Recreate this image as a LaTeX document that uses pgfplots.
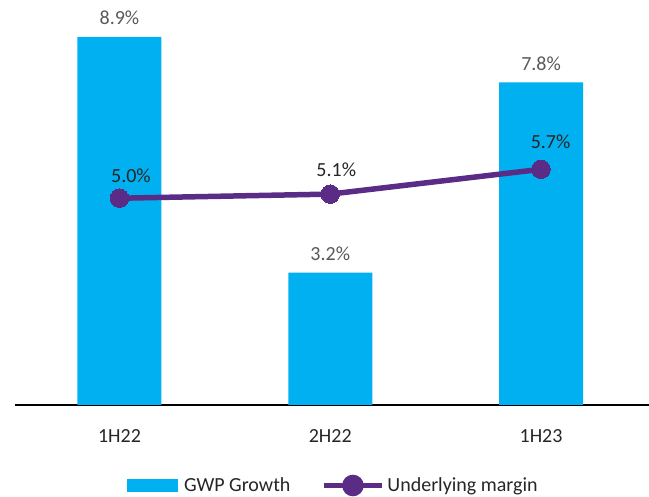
\documentclass[border=0pt]{standalone}
\usepackage{pgfplots}
\pgfplotsset{compat=1.18}
\usepackage{fontspec}
\setmainfont{Carlito}
\definecolor{barblue}{HTML}{00B0F0}
\definecolor{linepurple}{HTML}{5B2C86}
\definecolor{lblgray}{HTML}{595959}
\definecolor{lbldark}{HTML}{262626}
\begin{document}
\begin{tikzpicture}
\begin{axis}[
  at={(14.5pt,92pt)}, anchor=south west,
  scale only axis, width=634.5pt, height=405pt,
  xmin=-0.498, xmax=2.512, ymin=0, ymax=9.794,
  clip=false,
  axis x line=bottom, axis y line=none,
  x axis line style={-, line width=1.5pt, black},
  xtick={0,1,2}, xticklabels={1H22,2H22,1H23},
  major tick length=0pt,
  xticklabel style={font=\fontsize{20}{24}\selectfont, text=lbldark, anchor=base, yshift=-38pt, inner sep=0pt},
  /pgf/number format/assume math mode=true,
  legend columns=2,
  legend style={at={(0.1773,-0.1988)}, anchor=west, draw=none, fill=none,
    font=\fontsize{20}{24}\selectfont, text=lbldark,
    inner sep=0pt, outer sep=0pt,
    nodes={inner sep=0pt},
    /tikz/column 1/.style={column sep=6pt},
    /tikz/column 2/.style={column sep=31pt},
    /tikz/column 3/.style={column sep=3pt}},
]
\addplot[ybar, bar width=84pt, fill=barblue, draw=none,
  point meta=explicit symbolic,
  nodes near coords,
  every node near coord/.append style={font=\fontsize{20}{24}\selectfont, text=lblgray, anchor=base, yshift=12pt, inner sep=0pt},
  legend image code/.code={\fill[barblue] (0pt,-6.5pt) rectangle (51pt,6.5pt);}]
  coordinates {(0,8.9) [8.9\%] (1,3.2) [3.2\%] (2,7.8) [7.8\%]};
\addlegendentry{GWP Growth}
\addplot[linepurple, line width=5.5pt, mark=*, mark size=9.25pt,
  mark options={solid, fill=linepurple, draw=linepurple, line width=0pt},
  point meta=explicit symbolic,
  nodes near coords,
  every node near coord/.append style={font=\fontsize{20}{24}\selectfont, text=lbldark, anchor=base, inner sep=0pt,
    xshift={ifthenelse(\coordindex==0,11.5,ifthenelse(\coordindex==1,6,9.5))*1pt},
    yshift={ifthenelse(\coordindex==0,15.5,ifthenelse(\coordindex==1,18,21))*1pt}},
  legend image code/.code={\draw[linepurple, line width=5pt] (0pt,0pt) -- (58pt,0pt); \fill[linepurple] (29pt,0pt) circle (8pt);}]
  coordinates {(0,5.0) [5.0\%] (1,5.1) [5.1\%] (2,5.7) [5.7\%]};
\addlegendentry{Underlying margin}
\end{axis}
\pgfresetboundingbox
\path[use as bounding box] (0,0) rectangle (649pt,497pt);
\end{tikzpicture}
\end{document}
